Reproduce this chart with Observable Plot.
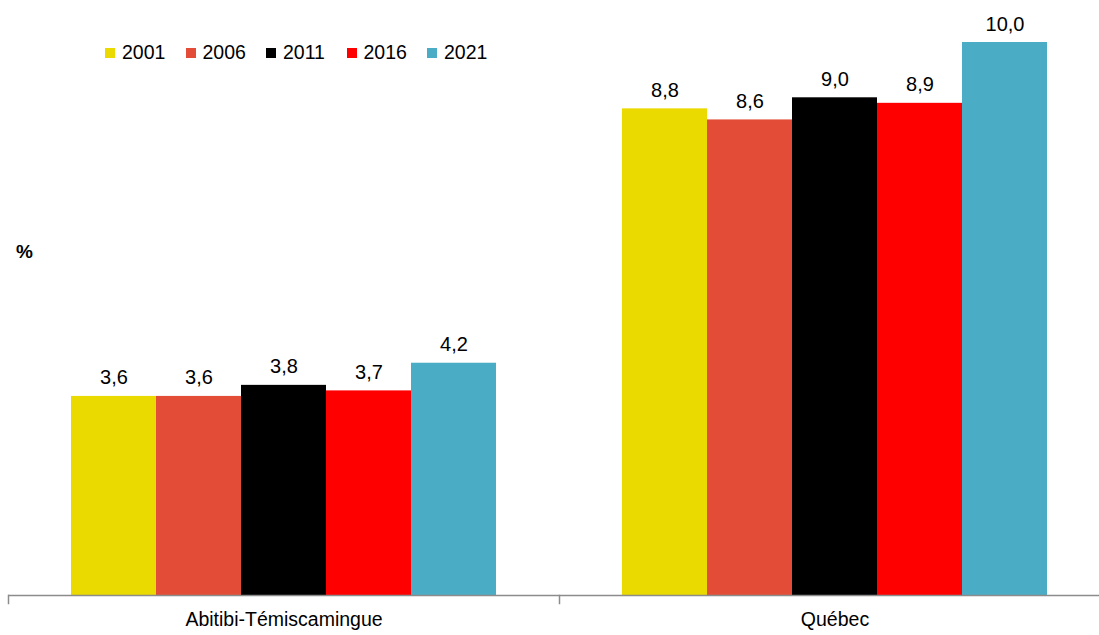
<!DOCTYPE html>
<html>
<head>
<meta charset="utf-8">
<script src="https://cdn.jsdelivr.net/npm/d3@7"></script>
<script src="https://cdn.jsdelivr.net/npm/@observablehq/plot@0.6"></script>
<style>
  html, body { margin: 0; padding: 0; background: #fff; }
  #wrap { position: relative; width: 1099px; height: 635px; font-family: "Liberation Sans", Arial, sans-serif; }
  #legend { position: absolute; top: 41px; left: 105px; display: flex; gap: 0; font-size: 19.5px; color: #000; }
  .item { display: flex; align-items: center; width: 80.5px; }
  .sw { width: 10px; height: 10px; margin-right: 7px; }
  #ylab { position: absolute; left: 16px; top: 241px; font-size: 19px; font-weight: bold; }
</style>
</head>
<body>
<div id="wrap">
  <div id="chart"></div>
  <div id="legend"></div>
  <div id="ylab">%</div>
</div>
<script>
const groups = ["Abitibi-Témiscamingue", "Québec"];
const years = ["2001", "2006", "2011", "2016", "2021"];
const abitibi = [3.6, 3.6, 3.8, 3.7, 4.2];
const quebec = [8.8, 8.6, 9.0, 8.9, 10.0];
const colors = ["#EBDA00", "#E34D38", "#000000", "#FF0000", "#4BACC6"];

const data = [];
years.forEach((y, i) => data.push({group: groups[0], year: y, value: abitibi[i]}));
years.forEach((y, i) => data.push({group: groups[1], year: y, value: quebec[i]}));

const fmt = v => v.toFixed(1).replace(".", ",");
const font = "'Liberation Sans', Arial, sans-serif";

const plot = Plot.plot({
  width: 1099,
  height: 635,
  marginTop: 42,
  marginBottom: 40,
  marginLeft: 8,
  marginRight: 0,
  style: {fontFamily: font, fontSize: "19.5px", color: "#000", background: "#fff"},
  fx: {domain: groups, range: [8, 1110], padding: 0, label: null},
  x: {domain: years, paddingInner: 0, paddingOuter: 0.74, axis: null},
  y: {domain: [0, 10], axis: null},
  color: {domain: years, range: colors},
  marks: [
    Plot.barY(data, {fx: "group", x: "year", y: "value", fill: "year"}),
    Plot.text(data, {fx: "group", x: "year", y: "value", text: d => fmt(d.value), lineAnchor: "bottom", dy: -12, fontSize: 20, fill: "#000"}),
    Plot.ruleY([0], {stroke: "#8c8c8c", strokeWidth: 1.5}),
    Plot.frame({anchor: "left", stroke: "#8c8c8c", strokeWidth: 1.5, insetTop: 553, insetBottom: -8}),
    Plot.axisFx({anchor: "bottom", tickSize: 0, tickPadding: 17, fontSize: 19.5, label: null})
  ]
});
document.getElementById("chart").appendChild(plot);

const leg = document.getElementById("legend");
years.forEach((y, i) => {
  const it = document.createElement("div");
  it.className = "item";
  const sw = document.createElement("div");
  sw.className = "sw";
  sw.style.background = colors[i];
  const t = document.createElement("span");
  t.textContent = y;
  it.appendChild(sw); it.appendChild(t);
  leg.appendChild(it);
});
</script>
</body>
</html>
